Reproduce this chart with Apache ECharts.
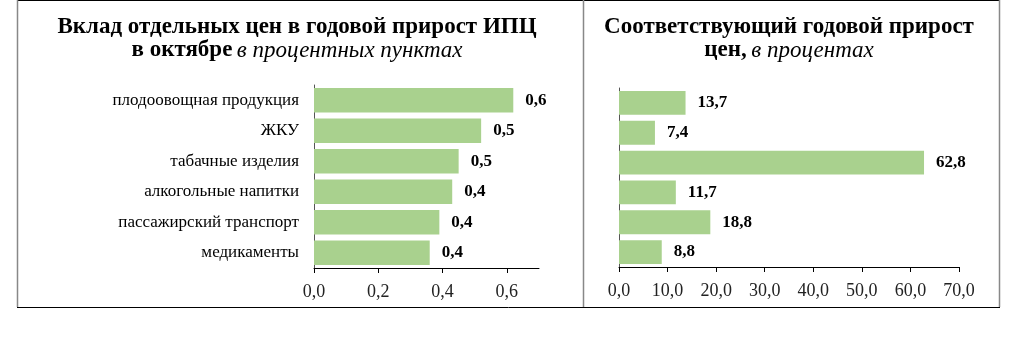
<!DOCTYPE html>
<html lang="ru">
<head>
	<meta charset="utf-8">
	<title>Вклад отдельных цен в годовой прирост ИПЦ</title>
	<script src="https://cdn.jsdelivr.net/npm/echarts@6/dist/echarts.min.js"></script>
	<style type="text/css">
		html, body {
			margin: 0;
			padding: 0;
			background: #fff;
		}
		#chart {
			width: 1024px;
			height: 353px;
		}
	</style>
</head>
<body>
	<div id="chart"></div>
	<script type="text/javascript">
		// категории (сверху вниз)
		var categories = ['плодоовощная продукция', 'ЖКУ', 'табачные изделия', 'алкогольные напитки', 'пассажирский транспорт', 'медикаменты'];
		// вклад в годовой прирост ИПЦ, п.п.
		var contribution = [0.62, 0.52, 0.45, 0.43, 0.39, 0.36];
		// годовой прирост цен, %
		var growth = [13.7, 7.4, 62.8, 11.7, 18.8, 8.8];
		var leftTicks = { min: 0, max: 0.7, interval: 0.2 };
		var rightTicks = { min: 0, max: 70, interval: 10 };

		var font = '"Liberation Serif", "DejaVu Serif", serif';
		var green = '#A9D18E';

		function comma(v, d) {
			return v.toFixed(d).replace('.', ',');
		}

		var titleRich = {
			b: { fontFamily: font, fontWeight: 'bold', fontSize: 23, color: '#000', lineHeight: 23 },
			i: { fontFamily: font, fontWeight: 'normal', fontStyle: 'italic', fontSize: 23, color: '#000', lineHeight: 23 }
		};

		var chart = echarts.init(document.getElementById('chart'));

		var option = {
			animation: false,
			textStyle: { fontFamily: font },
			title: [{
				left: 292,
				top: 11,
				textAlign: 'center',
				text: '{b|Вклад отдельных цен в годовой прирост ИПЦ}\n{b|в октябре} {i|в процентных пунктах}',
				textStyle: { fontWeight: 'normal', rich: titleRich }
			}, {
				left: 784,
				top: 11,
				textAlign: 'center',
				text: '{b|Соответствующий годовой прирост}\n{b|цен,} {i|в процентах}',
				textStyle: { fontWeight: 'normal', rich: titleRich }
			}],
			grid: [
				{ left: 314, top: 85, width: 225, height: 183 },
				{ left: 619, top: 88, width: 340, height: 179 }
			],
			xAxis: [{
				gridIndex: 0,
				type: 'value',
				min: leftTicks.min,
				max: leftTicks.max,
				interval: leftTicks.interval,
				splitLine: { show: false },
				axisLine: { show: true, lineStyle: { color: '#000', width: 1 } },
				axisTick: { show: true, length: 5, lineStyle: { color: '#000' } },
				axisLabel: {
					margin: 15,
					fontSize: 18,
					color: '#222',
					fontFamily: font,
					showMaxLabel: false,
					formatter: function(v) { return comma(v, 1); }
				}
			}, {
				gridIndex: 1,
				type: 'value',
				min: rightTicks.min,
				max: rightTicks.max,
				interval: rightTicks.interval,
				splitLine: { show: false },
				axisLine: { show: true, lineStyle: { color: '#000', width: 1 } },
				axisTick: { show: true, length: 5, lineStyle: { color: '#000' } },
				axisLabel: {
					margin: 15,
					fontSize: 18,
					color: '#222',
					fontFamily: font,
					formatter: function(v) { return comma(v, 1); }
				}
			}],
			yAxis: [{
				gridIndex: 0,
				type: 'category',
				inverse: true,
				data: categories,
				axisLine: { show: true, lineStyle: { color: '#555' } },
				axisTick: { show: false },
				axisLabel: { margin: 15, fontSize: 17, color: '#000', fontFamily: font }
			}, {
				gridIndex: 1,
				type: 'category',
				inverse: true,
				data: categories,
				axisLine: { show: true, lineStyle: { color: '#555' } },
				axisTick: { show: false },
				axisLabel: { show: false }
			}],
			series: [{
				type: 'bar',
				xAxisIndex: 0,
				yAxisIndex: 0,
				data: contribution,
				barCategoryGap: '20%',
				itemStyle: { color: green },
				label: {
					show: true,
					position: 'right',
					distance: 12,
					fontSize: 17,
					fontWeight: 'bold',
					color: '#000',
					fontFamily: font,
					formatter: function(p) { return comma(p.value, 1); }
				}
			}, {
				type: 'bar',
				xAxisIndex: 1,
				yAxisIndex: 1,
				data: growth,
				barCategoryGap: '20%',
				itemStyle: { color: green },
				label: {
					show: true,
					position: 'right',
					distance: 12,
					fontSize: 17,
					fontWeight: 'bold',
					color: '#000',
					fontFamily: font,
					formatter: function(p) { return comma(p.value, 1); }
				}
			}],
			graphic: [
				// рамки панелей
				{ type: 'line', shape: { x1: 17, y1: 0.5, x2: 999, y2: 0.5 }, style: { stroke: '#000', lineWidth: 1 } },
				{ type: 'line', shape: { x1: 17.5, y1: 0, x2: 17.5, y2: 307 }, style: { stroke: '#888', lineWidth: 1.5 } },
				{ type: 'line', shape: { x1: 583.5, y1: 0, x2: 583.5, y2: 307 }, style: { stroke: '#888', lineWidth: 1.5 } },
				{ type: 'line', shape: { x1: 999.5, y1: 0, x2: 999.5, y2: 307 }, style: { stroke: '#888', lineWidth: 1.5 } },
				{ type: 'line', shape: { x1: 17, y1: 307.5, x2: 1000, y2: 307.5 }, style: { stroke: '#000', lineWidth: 1 } }
			]
		};

		chart.setOption(option);
	</script>
</body>
</html>
